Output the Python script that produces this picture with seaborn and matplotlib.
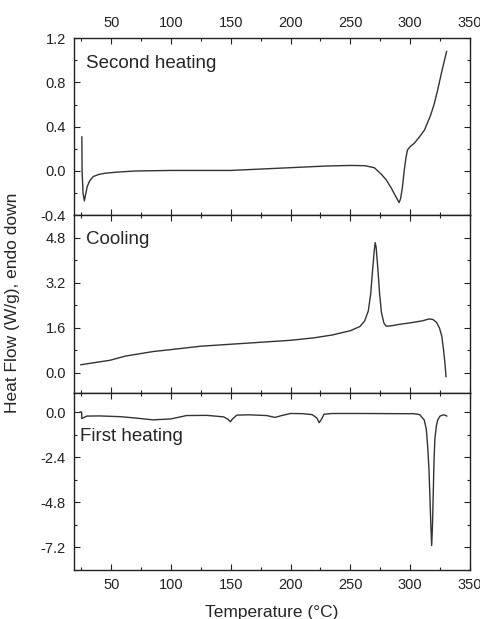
import pandas as pd
import matplotlib.pyplot as plt
from matplotlib.ticker import MultipleLocator
import seaborn as sb

# === DATA ===
t_second = [25.5, 25.7, 26.5, 27.6, 28.5, 30, 32, 35, 40, 45, 55, 70, 100, 150, 200, 230,
            250, 262, 270, 276, 280, 284, 287, 289.5, 290.8, 292, 293.5, 295, 296.5, 297.8,
            300, 303.4, 308, 312, 317, 320, 323, 326.5, 330.5]
hf_second = [0.31, 0.0, -0.2, -0.27, -0.22, -0.14, -0.09, -0.05, -0.03, -0.02, -0.01, 0.0,
             0.005, 0.005, 0.03, 0.045, 0.05, 0.048, 0.03, -0.03, -0.08, -0.15, -0.21, -0.26,
             -0.285, -0.25, -0.15, 0.0, 0.12, 0.19, 0.22, 0.25, 0.31, 0.37, 0.5, 0.6, 0.73,
             0.9, 1.08]

t_cool = [24.5, 35, 49, 62, 75, 85, 100, 125, 150, 175, 200, 220, 235, 250, 258, 262, 265,
          267, 268.5, 270, 270.8, 271.6, 273, 274.5, 276, 278, 280, 285, 290, 300, 310, 316,
          319, 322, 324.5, 326.5, 328, 329.2, 330]
hf_cool = [0.29, 0.36, 0.45, 0.6, 0.69, 0.76, 0.83, 0.95, 1.02, 1.09, 1.16, 1.25, 1.35, 1.5,
           1.65, 1.85, 2.2, 2.8, 3.6, 4.35, 4.63, 4.45, 3.7, 2.8, 2.15, 1.78, 1.66, 1.68, 1.72,
           1.78, 1.85, 1.92, 1.9, 1.8, 1.6, 1.3, 0.8, 0.3, -0.14]

t_first = [24, 25.3, 25.5, 27, 29.6, 40, 57.5, 70, 85, 100, 113, 130, 144, 147.5, 149.7,
           151.5, 155, 165, 180, 187, 192, 200, 210, 218, 222, 224, 226, 228, 235, 260, 290,
           303, 308, 311.8, 313.5, 314.6, 315.7, 316.5, 317.3, 318, 318.7, 319.3, 320, 320.7,
           322, 323, 325, 327.2, 329, 330.8]
hf_first = [0.02, 0.02, -0.33, -0.28, -0.2, -0.19, -0.23, -0.3, -0.4, -0.35, -0.17, -0.16,
            -0.24, -0.36, -0.5, -0.35, -0.15, -0.13, -0.17, -0.27, -0.18, -0.06, -0.07, -0.12,
            -0.3, -0.55, -0.35, -0.1, -0.06, -0.06, -0.07, -0.07, -0.12, -0.41, -0.9, -1.75,
            -3.0, -4.42, -6.0, -7.1, -6.0, -4.4, -2.5, -1.39, -0.7, -0.41, -0.2, -0.14, -0.14,
            -0.2]

panels = [
    ("Second heating", t_second, hf_second, (-0.4, 1.2), 0.4),
    ("Cooling", t_cool, hf_cool, (-0.7, 5.6), 1.6),
    ("First heating", t_first, hf_first, (-8.4, 1.05), 2.4),
]

sb.set_style("ticks")
plt.rcParams['font.family'] = ['Liberation Sans', 'DejaVu Sans']
plt.rcParams['axes.unicode_minus'] = False

fig, axes = plt.subplots(3, 1, figsize=(4.81, 6.19), dpi=100, sharex=True)
fig.subplots_adjust(left=0.154, right=0.977, top=0.9386, bottom=0.0792, hspace=0)

for i, (ax, (name, t, hf, ylim, step)) in enumerate(zip(axes, panels)):
    df = pd.DataFrame({'T': t, 'HF': hf})
    sb.lineplot(x='T', y='HF', data=df, ax=ax, color='#333333', lw=1.0,
                sort=False, estimator=None)
    ax.set_xlim(19, 350)
    ax.set_ylim(*ylim)
    ax.xaxis.set_major_locator(MultipleLocator(50))
    ax.xaxis.set_minor_locator(MultipleLocator(25))
    ax.yaxis.set_major_locator(MultipleLocator(step))
    ax.yaxis.set_minor_locator(MultipleLocator(step / 2))
    ax.tick_params(which='both', direction='in', top=True, right=True,
                   labelsize=10.5, width=0.8, colors='#222222', pad=6)
    ax.tick_params(which='major', length=4)
    ax.tick_params(which='minor', length=2)
    ax.tick_params(axis='x', labelbottom=(i == 2), labeltop=(i == 0))
    ax.set_xlabel('')
    ax.set_ylabel('')
    for spine in ax.spines.values():
        spine.set_linewidth(1.0)
        spine.set_color('#222222')

axes[0].set_yticks([-0.4, 0.0, 0.4, 0.8, 1.2])
axes[1].set_yticks([0.0, 1.6, 3.2, 4.8])
axes[2].set_yticks([0.0, -2.4, -4.8, -7.2])

axes[0].text(0.03, 0.83, "Second heating", transform=axes[0].transAxes, fontsize=13.5)
axes[1].text(0.03, 0.84, "Cooling", transform=axes[1].transAxes, fontsize=13.5)
axes[2].text(0.015, 0.725, "First heating", transform=axes[2].transAxes, fontsize=13.5)

axes[2].set_xlabel("Temperature (\u00b0C)", fontsize=12.5, labelpad=9)
fig.text(0.026, 0.51, "Heat Flow (W/g), endo down", rotation=90, fontsize=12.5,
         ha='center', va='center')

plt.savefig("out.png", dpi=100)
